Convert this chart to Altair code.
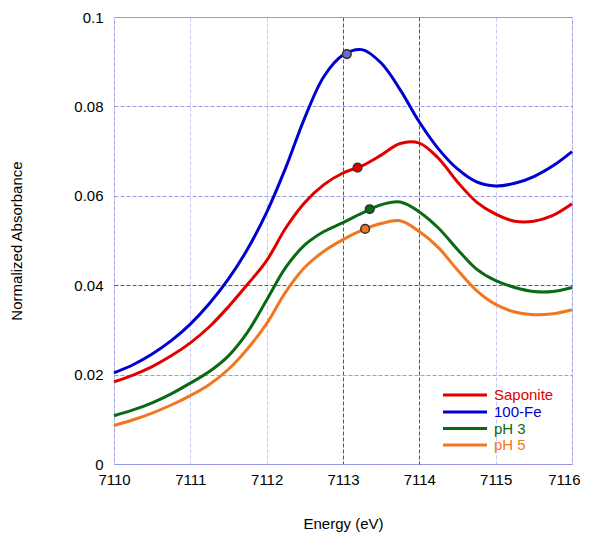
import altair as alt
import pandas as pd

energy = [7110, 7110.25, 7110.5, 7110.75, 7111, 7111.25, 7111.5, 7111.75,
          7112, 7112.25, 7112.5, 7112.75, 7113, 7113.25, 7113.5, 7113.75,
          7114, 7114.25, 7114.5, 7114.75, 7115, 7115.25, 7115.5, 7115.75, 7116]

saponite = [0.0184, 0.0199, 0.0218, 0.0242, 0.0271, 0.0307, 0.0352, 0.0402,
            0.0455, 0.0528, 0.0585, 0.0625, 0.0651, 0.0667, 0.0691, 0.0717,
            0.0718, 0.0684, 0.0631, 0.0586, 0.0559, 0.0543, 0.0543, 0.0556, 0.0582]
fe100 = [0.0204, 0.0222, 0.0246, 0.0276, 0.0313, 0.0359, 0.0414, 0.0481,
         0.0563, 0.0663, 0.0775, 0.0867, 0.0915, 0.0927, 0.0897, 0.0837,
         0.0765, 0.0705, 0.0660, 0.0631, 0.0622, 0.0628, 0.0643, 0.0667, 0.0699]
ph3 = [0.0108, 0.0121, 0.0137, 0.0157, 0.0181, 0.0207, 0.0242, 0.0295,
       0.0367, 0.0440, 0.0490, 0.0520, 0.0540, 0.0561, 0.0580, 0.0586,
       0.0564, 0.0528, 0.0480, 0.0436, 0.0410, 0.0395, 0.0386, 0.0386, 0.0395]
ph5 = [0.0086, 0.0099, 0.0114, 0.0132, 0.0153, 0.0178, 0.0212, 0.0258,
       0.0314, 0.0385, 0.0440, 0.0476, 0.0502, 0.0523, 0.0538, 0.0544,
       0.0520, 0.0484, 0.0434, 0.0388, 0.0357, 0.0340, 0.0334, 0.0336, 0.0345]

series_names = ["Saponite", "100-Fe", "pH 3", "pH 5"]
series_colors = ["#e00000", "#0000d0", "#0a6a14", "#f27620"]

dot_energy = [7113.19, 7113.05, 7113.35, 7113.29]
dot_abs = [0.0663, 0.0917, 0.0570, 0.0526]
dot_fill = ["#e00000", "#6a6ad0", "#0a6a14", "#f27620"]

x_ticks = [7110, 7111, 7112, 7113, 7114, 7115, 7116]
y_ticks = [0, 0.02, 0.04, 0.06, 0.08, 0.1]

rows = []
for name, vals in zip(series_names, [saponite, fe100, ph3, ph5]):
    for e, v in zip(energy, vals):
        rows.append({"energy": e, "absorbance": v, "series": name})
df = pd.DataFrame(rows)

dots = pd.DataFrame({"energy": dot_energy, "absorbance": dot_abs, "series": series_names})
legend_df = pd.DataFrame({"series": series_names, "py": [378, 395, 411.5, 428]})

FONT = "Liberation Sans"

color_scale = alt.Scale(domain=series_names, range=series_colors)

dark_v = "datum.value == 7113 || datum.value == 7114"
dark_h = "datum.value == 0.04"
last_x = "datum.value == 7116"

x_enc = alt.X("energy:Q",
              scale=alt.Scale(domain=[7110, 7116], nice=False, zero=False),
              axis=alt.Axis(values=x_ticks, format="d", title="Energy (eV)",
                            grid=True, gridDash=[4, 2], labelFlush=False,
                            gridColor={"condition": {"test": dark_v, "value": "#4a4ab0"}, "value": "#c8c8f4"},
                            labelAlign={"condition": {"test": last_x, "value": "right"}, "value": "center"},
                            labelOffset={"condition": {"test": last_x, "value": 8}, "value": 0},
                            labelPadding=8, titlePadding=29))
y_enc = alt.Y("absorbance:Q",
              scale=alt.Scale(domain=[0, 0.1], nice=False),
              axis=alt.Axis(values=y_ticks, format="~g", title="Normalized Absorbance",
                            grid=True, gridDash=[4, 2], labelFlush=False,
                            gridColor={"condition": {"test": dark_h, "value": "#55558f"}, "value": "#9a9ae0"},
                            labelPadding=11, titlePadding=49))

lines = alt.Chart(df).mark_line(strokeWidth=3, interpolate="catmull-rom").encode(
    x=x_enc, y=y_enc,
    color=alt.Color("series:N", scale=color_scale, legend=None),
    detail="series:N",
)

points = alt.Chart(dots).mark_circle(size=75, stroke="#333333", strokeWidth=1.5, opacity=1).encode(
    x="energy:Q", y="absorbance:Q",
    fill=alt.Fill("series:N", scale=alt.Scale(domain=series_names, range=dot_fill), legend=None),
)

leg_rule = alt.Chart(legend_df).mark_rule(strokeWidth=3).encode(
    x=alt.value(329), x2=alt.value(373),
    y=alt.Y("py:Q", scale=None, axis=None),
    color=alt.Color("series:N", scale=color_scale, legend=None),
)
leg_text = alt.Chart(legend_df).mark_text(align="left", baseline="middle", fontSize=15, font=FONT).encode(
    x=alt.value(380),
    y=alt.Y("py:Q", scale=None, axis=None),
    text="series:N",
    color=alt.Color("series:N", scale=color_scale, legend=None),
)

chart = alt.layer(lines, points, leg_rule, leg_text).properties(
    width=458, height=447,
    autosize=alt.AutoSizeParams(type="none"),
    padding={"left": 106, "top": 9, "right": 8, "bottom": 68},
).configure_view(stroke="#9090ee", strokeWidth=1).configure_axis(
    domain=False, ticks=False,
    labelFont=FONT, labelFontSize=15, labelColor="#000000",
    titleFont=FONT, titleFontSize=15, titleFontWeight="normal", titleColor="#000000",
)

chart.save("out.html", embed_options={"renderer": "svg", "actions": False})
